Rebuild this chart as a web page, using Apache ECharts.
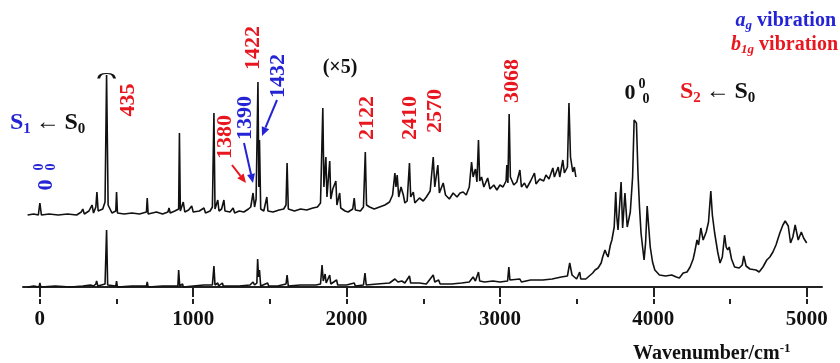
<!DOCTYPE html>
<html>
<head>
<meta charset="utf-8">
<script src="https://cdn.jsdelivr.net/npm/echarts@6/dist/echarts.min.js"></script>
<style>
  html, body { margin: 0; background: #fff; }
  #chart { width: 840px; height: 363px; }
</style>
</head>
<body>
<div id="chart"></div>
<script>
// tick positions on the wavenumber axis
const xTickLabels = [0, 1000, 2000, 3000, 4000, 5000];
const xMinorTicks = [0, 500, 1000, 1500, 2000, 2500, 3000, 3500, 4000, 4500, 5000];

// lower trace: full range, [wavenumber, intensity]
const lowerTrace = [
  [-80,0],[-40,1],[-5,0],[0,4],[6,0],[100,1],[200,0],[280,1],[330,2],[340,4],[350,1],[365,3],[370,6],[378,1],
  [425,3],[435,57],[442,2],[495,1],[500,6],[506,0],[600,1],[695,1],[700,5],[706,0],[800,1],[900,1],[905,17],[912,1],
  [930,3],[936,0],[1000,1],[1070,2],[1080,0],[1125,2],[1135,21],[1142,2],[1160,4],[1166,1],[1190,4],[1196,1],
  [1300,1],[1370,2],[1390,5],[1400,2],[1415,4],[1420,28],[1426,10],[1432,17],[1440,1],[1485,4],[1492,1],[1550,1],
  [1605,3],[1612,12],[1620,1],[1700,2],[1800,2],[1830,3],[1840,22],[1848,6],[1860,13],[1867,4],[1890,12],[1897,3],
  [1935,7],[1942,2],[2000,2],[2050,4],[2057,1],[2110,2],[2120,14],[2128,2],[2200,3],[2280,4],[2315,8],[2325,9],
  [2335,5],[2360,6],[2380,4],[2410,11],[2418,4],[2475,4],[2520,3],[2565,12],[2575,5],[2600,7],[2610,3],[2685,3],
  [2750,4],[2800,5],[2825,10],[2840,6],[2860,15],[2868,6],[2900,5],[2955,6],[3000,5],[3050,6],[3058,20],[3065,7],
  [3130,8],[3140,5],[3200,7],[3280,7],[3340,8],[3400,10],[3440,11],[3455,24],[3470,12],[3500,8],[3520,15],[3527,8],
  [3535,6],[3560,8],[3590,12],[3605,14],[3620,17],[3640,19],[3660,24],[3670,30],[3685,37],[3695,33],[3705,30],
  [3720,42],[3730,47],[3745,60],[3755,95],[3762,70],[3770,57],[3790,105],[3800,59],[3815,94],[3830,60],[3850,75],
  [3865,110],[3875,167],[3890,164],[3900,114],[3910,80],[3920,54],[3930,40],[3940,27],[3950,45],[3960,81],[3970,60],
  [3980,40],[3995,25],[4010,17],[4040,12],[4080,11],[4120,12],[4150,10],[4170,9],[4195,14],[4220,15],[4240,20],
  [4260,28],[4270,35],[4285,47],[4295,42],[4310,59],[4325,47],[4345,55],[4360,65],[4375,96],[4385,72],[4400,54],
  [4420,35],[4435,24],[4450,30],[4465,52],[4475,40],[4485,37],[4495,40],[4510,28],[4530,20],[4560,19],[4580,22],
  [4590,31],[4605,21],[4630,18],[4670,17],[4690,15],[4715,20],[4740,27],[4760,30],[4780,35],[4800,42],[4825,54],
  [4845,62],[4860,66],[4880,61],[4895,44],[4910,50],[4925,62],[4945,47],[4965,55],[4980,49],[5000,44]
];

// upper trace: x5 magnified S1<-S0 region, [wavenumber, intensity]
const upperTrace = [
  [-80,2],[-40,3],[-10,2],[0,14],[10,2],[60,3],[120,2],[180,3],[240,2],[270,5],[280,8],[290,3],[320,6],[340,12],
  [350,4],[365,10],[372,25],[380,6],[410,8],[425,15],[435,142],[445,12],[470,4],[495,6],[500,25],[506,4],[550,3],
  [600,4],[650,3],[695,5],[700,19],[706,3],[760,5],[800,3],[835,5],[842,9],[850,4],[880,6],[905,8],[910,84],[916,6],
  [935,15],[945,5],[970,7],[990,11],[1000,5],[1040,6],[1070,9],[1080,4],[1110,6],[1125,10],[1135,104],[1142,8],
  [1160,17],[1168,6],[1185,8],[1200,17],[1207,6],[1240,5],[1260,9],[1270,4],[1300,6],[1330,5],[1360,8],[1375,10],
  [1390,24],[1400,10],[1410,18],[1422,135],[1428,30],[1432,77],[1440,8],[1460,6],[1480,20],[1487,6],[1520,5],
  [1560,7],[1590,8],[1605,12],[1612,54],[1620,8],[1660,6],[1700,8],[1740,7],[1780,9],[1810,10],[1830,14],[1845,109],
  [1852,30],[1865,60],[1872,20],[1890,56],[1897,18],[1910,28],[1930,36],[1937,12],[1955,24],[1962,9],[1990,6],
  [2010,5],[2040,8],[2050,19],[2057,7],[2090,6],[2110,10],[2122,65],[2130,12],[2150,10],[2180,8],[2215,10],[2250,12],
  [2280,15],[2300,22],[2315,44],[2322,30],[2330,42],[2340,20],[2355,30],[2370,22],[2380,14],[2395,16],[2410,54],
  [2418,20],[2435,25],[2445,14],[2475,19],[2500,16],[2520,20],[2545,26],[2565,60],[2575,30],[2595,52],[2605,24],
  [2620,30],[2630,34],[2645,22],[2670,18],[2695,24],[2720,20],[2740,24],[2760,25],[2780,22],[2800,30],[2815,55],
  [2825,40],[2840,48],[2850,35],[2860,77],[2868,36],[2880,40],[2895,30],[2920,39],[2935,28],[2960,32],[2980,27],
  [3000,32],[3020,30],[3040,36],[3045,52],[3052,34],[3060,103],[3068,40],[3090,32],[3110,35],[3130,47],[3140,30],
  [3160,34],[3175,29],[3200,36],[3225,44],[3235,33],[3260,38],[3285,36],[3300,42],[3320,38],[3345,49],[3355,40],
  [3380,50],[3390,40],[3410,57],[3420,44],[3440,50],[3450,114],[3460,60],[3475,45],[3485,50],[3495,40]
];
const upperOffset = 70;      // vertical shift of the x5 trace
const upperBreakAt = 435;    // peak that runs off scale

const RED = '#e8161f';
const BLUE = '#2424d6';
const INK = '#111';
const SERIF = "'Liberation Serif', 'Times New Roman', serif";

function txt(x, y, text, color, size, opts) {
  return Object.assign({
    type: 'text', x: x, y: y, z: 10,
    style: {
      text: text, fill: color, font: 'bold ' + size + 'px ' + SERIF,
      align: 'center', verticalAlign: 'middle', textAlign: 'center', textVerticalAlign: 'middle'
    }
  }, opts || {});
}
function vtxt(x, y, text, color) {
  return txt(x, y, text, color, 22, { rotation: Math.PI / 2 });
}
function arrow(x1, y1, x2, y2, color) {
  const a = Math.atan2(y2 - y1, x2 - x1);
  const L = 9, W = 4;
  const bx = x2 - L * Math.cos(a), by = y2 - L * Math.sin(a);
  const px = -Math.sin(a) * W, py = Math.cos(a) * W;
  return [
    { type: 'line', z: 10, shape: { x1: x1, y1: y1, x2: bx, y2: by }, style: { stroke: color, lineWidth: 2 } },
    { type: 'polygon', z: 10, shape: { points: [[x2, y2], [bx + px, by + py], [bx - px, by - py]] }, style: { fill: color } }
  ];
}
function richTxt(x, y, text, rich, align) {
  return {
    type: 'text', x: x, y: y, z: 10,
    style: { text: text, rich: rich, align: align || 'left', verticalAlign: 'middle',
             textAlign: align || 'left', textVerticalAlign: 'middle', font: 'bold 24px ' + SERIF }
  };
}
const sub = (c, s) => ({ fill: c, fontSize: s, fontWeight: 'bold', fontFamily: SERIF, padding: [12, 0, 0, 0] });
const big = (c, s) => ({ fill: c, fontSize: s, fontWeight: 'bold', fontFamily: SERIF });

const graphics = [
  richTxt(10, 123, '{s|S}{n|1}{k|\u2009←\u2009S}{z|0}', { s: big(BLUE, 24), n: sub(BLUE, 15), k: big(INK, 24), z: sub(INK, 15) }),
  richTxt(680, 92, '{s|S}{n|2}{k|\u2009←\u2009S}{z|0}', { s: big(RED, 24), n: sub(RED, 15), k: big(INK, 24), z: sub(INK, 15) }),
  {
    type: 'group', x: 46, y: 185, rotation: Math.PI / 2,
    children: [
      txt(0, 0, '0', BLUE, 22),
      txt(18, -7, '0', BLUE, 14),
      txt(18, 5, '0', BLUE, 14)
    ]
  },
  txt(630, 93, '0', INK, 22),
  txt(642, 84, '0', INK, 14),
  txt(646, 99, '0', INK, 14),
  vtxt(128, 100, '435', RED),
  vtxt(225, 137, '1380', RED),
  vtxt(245, 118, '1390', BLUE),
  vtxt(253, 48, '1422', RED),
  vtxt(278, 76, '1432', BLUE),
  vtxt(367, 118, '2122', RED),
  vtxt(410, 118, '2410', RED),
  vtxt(435, 111, '2570', RED),
  vtxt(512, 81, '3068', RED),
  txt(340, 68, '(×5)', INK, 20),
  ...arrow(232, 165, 246, 183, RED),
  ...arrow(244, 143, 253, 183, BLUE),
  ...arrow(277, 100, 262, 136, BLUE),
  richTxt(836, 21, '{i|a}{is|g}{t| vibration}', {
    i: { fill: BLUE, fontSize: 20, fontWeight: 'bold', fontStyle: 'italic', fontFamily: SERIF },
    is: { fill: BLUE, fontSize: 13, fontWeight: 'bold', fontStyle: 'italic', fontFamily: SERIF, padding: [10, 0, 0, 0] },
    t: { fill: BLUE, fontSize: 20, fontWeight: 'bold', fontFamily: SERIF }
  }, 'right'),
  richTxt(838, 45, '{i|b}{is|1g}{t| vibration}', {
    i: { fill: RED, fontSize: 20, fontWeight: 'bold', fontStyle: 'italic', fontFamily: SERIF },
    is: { fill: RED, fontSize: 13, fontWeight: 'bold', fontStyle: 'italic', fontFamily: SERIF, padding: [10, 0, 0, 0] },
    t: { fill: RED, fontSize: 20, fontWeight: 'bold', fontFamily: SERIF }
  }, 'right'),
  richTxt(633, 354, '{a|Wavenumber/cm}{b|-1}', {
    a: { fill: INK, fontSize: 20, fontWeight: 'bold', fontFamily: SERIF },
    b: { fill: INK, fontSize: 13, fontWeight: 'bold', fontFamily: SERIF, padding: [0, 0, 10, 0] }
  })
];

const chart = echarts.init(document.getElementById('chart'));
chart.setOption({
  animation: false,
  backgroundColor: '#fff',
  grid: { left: 23, right: 18, top: 9, bottom: 64 },
  xAxis: [
    {
      type: 'value', min: -110, max: 5100, position: 'bottom',
      axisLine: { lineStyle: { color: '#222', width: 2 } },
      axisTick: { customValues: xTickLabels, length: 10, lineStyle: { color: '#222', width: 2 } },
      axisLabel: {
        customValues: xTickLabels, formatter: v => String(v),
        color: INK, fontFamily: SERIF, fontWeight: 'bold', fontSize: 21, margin: 10
      },
      splitLine: { show: false }
    },
    {
      type: 'value', min: -110, max: 5100, position: 'bottom',
      axisLine: { show: false },
      axisTick: { customValues: xMinorTicks, length: 5, lineStyle: { color: '#222', width: 2 } },
      axisLabel: { show: false },
      splitLine: { show: false }
    }
  ],
  yAxis: { type: 'value', min: -12, max: 278, show: false },
  series: [
    {
      type: 'line', name: 'lower', data: lowerTrace, showSymbol: false,
      lineStyle: { color: INK, width: 1.6 }
    },
    {
      type: 'line', name: 'upper x5', showSymbol: false,
      data: upperTrace.map(p => [p[0], p[1] + upperOffset]),
      lineStyle: { color: INK, width: 1.6 },
      markPoint: {
        symbol: 'path://M0,5 C1,1 3,0 8,0 C13,0 15,1 16,5',
        symbolSize: [16, 5], symbolOffset: [0, 1], silent: true,
        itemStyle: { color: 'none', borderColor: INK, borderWidth: 1.6 },
        label: { show: false },
        data: [{ coord: [upperBreakAt, upperTrace.find(p => p[0] === upperBreakAt)[1] + upperOffset] }]
      }
    }
  ],
  graphic: graphics
});
</script>
</body>
</html>
